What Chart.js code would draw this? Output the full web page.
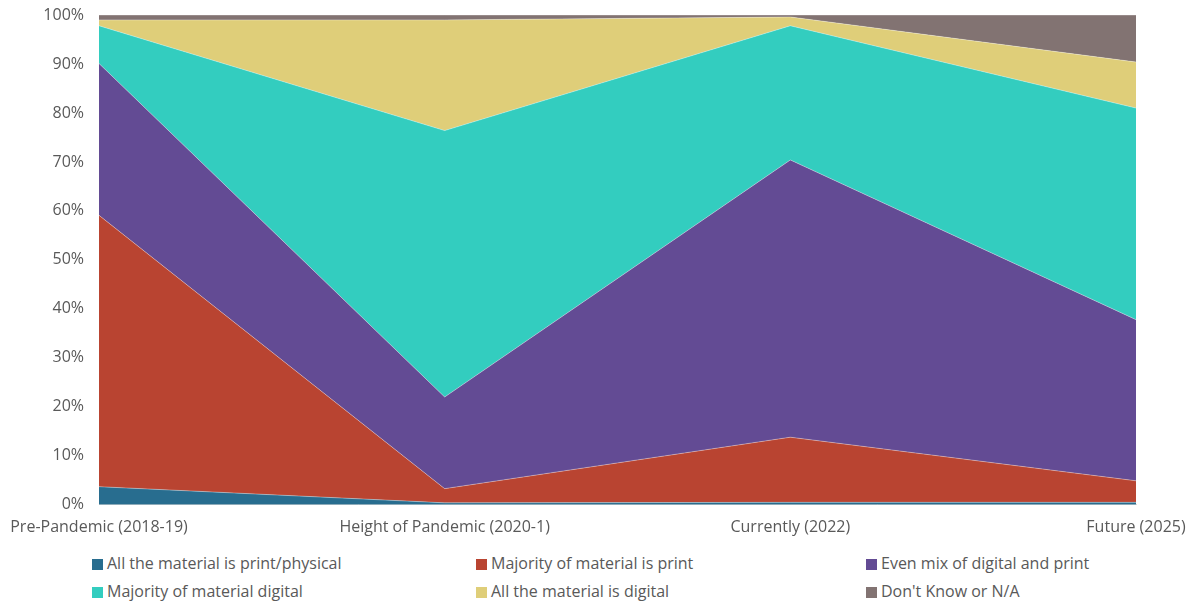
<!DOCTYPE html>
<html lang="en">
<head>
    <meta charset="UTF-8">
    <title>Print vs Digital Material</title>
    <script src="https://cdn.jsdelivr.net/npm/chart.js"></script>
    <style>
        body { margin: 0; background: #fff; font-family: 'Open Sans', sans-serif; }
        #wrap { position: relative; width: 1198px; height: 544px; }
        #legend { position: absolute; left: 0; top: 553px; width: 1198px; }
        .item { position: absolute; font-size: 16px; color: #595959; white-space: nowrap; line-height: 20px; }
        .box { display: inline-block; width: 11px; height: 11px; margin-right: 4px; vertical-align: -1px; }
    </style>
</head>
<body>
    <div id="wrap"><canvas id="areaChart" width="1198" height="544"></canvas></div>
    <div id="legend"></div>

    <script>
        const categories = ['Pre-Pandemic (2018-19)', 'Height of Pandemic (2020-1)', 'Currently (2022)', 'Future (2025)'];

        const allPrint      = [3.7, 0.4, 0.5, 0.5];
        const mostlyPrint   = [55.4, 2.9, 13.3, 4.4];
        const evenMix       = [31.0, 18.7, 56.6, 32.9];
        const mostlyDigital = [7.7, 54.4, 27.4, 43.2];
        const allDigital    = [1.2, 22.6, 1.8, 9.4];
        const dontKnow      = [1.0, 1.0, 0.4, 9.6];

        const series = [
            { label: 'All the material is print/physical', data: allPrint, color: '#286d8f' },
            { label: 'Majority of material is print', data: mostlyPrint, color: '#b94431' },
            { label: 'Even mix of digital and print', data: evenMix, color: '#634b94' },
            { label: 'Majority of material digital', data: mostlyDigital, color: '#33cdbf' },
            { label: 'All the material is digital', data: allDigital, color: '#dfce79' },
            { label: "Don't Know or N/A", data: dontKnow, color: '#827372' }
        ];

        const ctx = document.getElementById('areaChart').getContext('2d');

        const chart = new Chart(ctx, {
            type: 'line',
            data: {
                labels: categories,
                datasets: series.map((s, i) => ({
                    label: s.label,
                    data: s.data,
                    backgroundColor: s.color,
                    borderColor: 'rgba(255,255,255,0.45)',
                    borderWidth: 0.75,
                    fill: i === 0 ? 'origin' : '-1',
                    pointRadius: 0,
                    tension: 0
                }))
            },
            options: {
                responsive: false,
                animation: false,
                layout: { padding: { top: 15, right: 62, left: 0, bottom: 0 } },
                plugins: { legend: { display: false }, tooltip: { enabled: false } },
                scales: {
                    x: {
                        offset: false,
                        grid: { display: false, drawTicks: true, tickLength: 6, tickColor: '#d9d9d9' },
                        border: { color: '#d9d9d9' },
                        ticks: { color: '#595959', font: { family: 'Open Sans', size: 16 }, maxRotation: 0, padding: 7 }
                    },
                    y: {
                        stacked: true,
                        min: 0,
                        max: 100,
                        grid: { display: false, drawTicks: false },
                        border: { display: false },
                        afterFit: scale => { scale.width = 99; scale.paddingTop = 0; },
                        ticks: {
                            stepSize: 10,
                            padding: 15,
                            color: '#595959',
                            font: { family: 'Open Sans', size: 16 },
                            callback: v => v + '%'
                        }
                    }
                }
            }
        });

        // legend in three columns, two rows
        const legend = document.getElementById('legend');
        const colX = [92, 476, 866];
        series.forEach((s, i) => {
            const el = document.createElement('div');
            el.className = 'item';
            el.style.left = colX[i % 3] + 'px';
            el.style.top = (Math.floor(i / 3) * 28) + 'px';
            el.innerHTML = '<span class="box" style="background:' + s.color + '"></span>' + s.label;
            legend.appendChild(el);
        });
    </script>
</body>
</html>
